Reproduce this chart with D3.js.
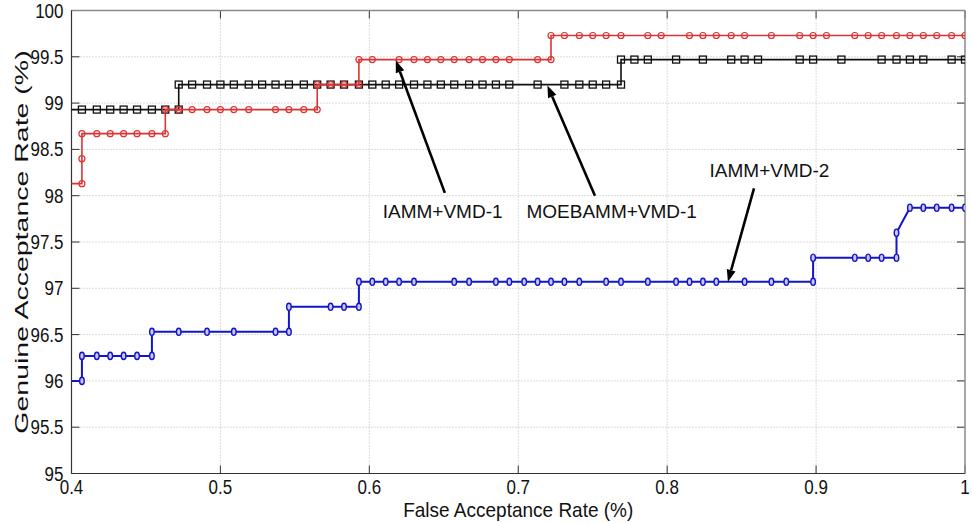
<!DOCTYPE html>
<html>
<head>
<meta charset="utf-8">
<script src="https://cdn.jsdelivr.net/npm/d3@7"></script>
<style>
  body { margin: 0; background: #fff; }
  svg { display: block; font-family: "Liberation Sans", Arial, sans-serif; }
  .grid line { stroke: #b8b8b8; stroke-width: 1; stroke-dasharray: 1,2; }
  .tick-mark { stroke: #333; stroke-width: 1; }
</style>
</head>
<body>
<div id="chart"></div>
<script>
'use strict';

// tick values and their labels
const xTicks = [0.4, 0.5, 0.6, 0.7, 0.8, 0.9, 1];
const xTickLabels = ['0.4', '0.5', '0.6', '0.7', '0.8', '0.9', '1'];
const yTicks = [95, 95.5, 96, 96.5, 97, 97.5, 98, 98.5, 99, 99.5, 100];
const yTickLabels = ['95', '95.5', '96', '96.5', '97', '97.5', '98', '98.5', '99', '99.5', '100'];

// [FAR, GAR]
const iammVmd1 = [
    [0.398, 98.13], [0.407, 98.13], [0.407, 98.40], [0.407, 98.67],
    [0.417, 98.67], [0.426, 98.67], [0.435, 98.67], [0.444, 98.67], [0.454, 98.67], [0.463, 98.67],
    [0.463, 98.93], [0.472, 98.93], [0.481, 98.93], [0.491, 98.93], [0.500, 98.93], [0.509, 98.93],
    [0.519, 98.93], [0.537, 98.93], [0.546, 98.93], [0.556, 98.93], [0.565, 98.93],
    [0.565, 99.20], [0.574, 99.20], [0.583, 99.20], [0.593, 99.20],
    [0.593, 99.47], [0.602, 99.47], [0.620, 99.47], [0.630, 99.47], [0.639, 99.47], [0.648, 99.47],
    [0.657, 99.47], [0.667, 99.47], [0.676, 99.47], [0.685, 99.47], [0.694, 99.47], [0.713, 99.47], [0.722, 99.47],
    [0.722, 99.73], [0.731, 99.73], [0.741, 99.73], [0.750, 99.73], [0.759, 99.73], [0.769, 99.73],
    [0.787, 99.73], [0.796, 99.73], [0.815, 99.73], [0.824, 99.73], [0.833, 99.73], [0.843, 99.73],
    [0.852, 99.73], [0.870, 99.73], [0.889, 99.73], [0.898, 99.73], [0.907, 99.73], [0.926, 99.73],
    [0.935, 99.73], [0.944, 99.73], [0.954, 99.73], [0.963, 99.73], [0.972, 99.73], [0.981, 99.73],
    [0.991, 99.73], [1.000, 99.73]
];

const moebammVmd1 = [
    [0.398, 98.93], [0.407, 98.93], [0.417, 98.93], [0.426, 98.93], [0.435, 98.93], [0.444, 98.93],
    [0.454, 98.93], [0.463, 98.93], [0.472, 98.93],
    [0.472, 99.20], [0.481, 99.20], [0.491, 99.20], [0.500, 99.20], [0.509, 99.20], [0.519, 99.20],
    [0.528, 99.20], [0.537, 99.20], [0.546, 99.20], [0.556, 99.20], [0.565, 99.20], [0.574, 99.20],
    [0.583, 99.20], [0.593, 99.20], [0.602, 99.20], [0.611, 99.20], [0.620, 99.20], [0.630, 99.20],
    [0.639, 99.20], [0.648, 99.20], [0.657, 99.20], [0.667, 99.20], [0.676, 99.20], [0.685, 99.20],
    [0.694, 99.20], [0.713, 99.20], [0.731, 99.20], [0.741, 99.20], [0.750, 99.20], [0.759, 99.20], [0.769, 99.20],
    [0.769, 99.47], [0.778, 99.47], [0.787, 99.47], [0.806, 99.47], [0.824, 99.47], [0.843, 99.47],
    [0.852, 99.47], [0.861, 99.47], [0.889, 99.47], [0.898, 99.47], [0.917, 99.47], [0.944, 99.47],
    [0.954, 99.47], [0.963, 99.47], [0.972, 99.47], [0.991, 99.47], [1.000, 99.47]
];

const iammVmd2 = [
    [0.398, 96.00], [0.407, 96.00], [0.407, 96.27],
    [0.417, 96.27], [0.426, 96.27], [0.435, 96.27], [0.444, 96.27], [0.454, 96.27],
    [0.454, 96.53], [0.472, 96.53], [0.491, 96.53], [0.509, 96.53], [0.537, 96.53], [0.546, 96.53],
    [0.546, 96.80], [0.574, 96.80], [0.583, 96.80], [0.593, 96.80],
    [0.593, 97.07], [0.602, 97.07], [0.611, 97.07], [0.620, 97.07], [0.630, 97.07], [0.657, 97.07],
    [0.667, 97.07], [0.685, 97.07], [0.694, 97.07], [0.704, 97.07], [0.713, 97.07], [0.722, 97.07],
    [0.731, 97.07], [0.741, 97.07], [0.759, 97.07], [0.769, 97.07], [0.787, 97.07], [0.806, 97.07],
    [0.815, 97.07], [0.824, 97.07], [0.833, 97.07], [0.852, 97.07], [0.870, 97.07], [0.880, 97.07], [0.898, 97.07],
    [0.898, 97.33], [0.926, 97.33], [0.935, 97.33], [0.944, 97.33], [0.954, 97.33],
    [0.954, 97.60],
    [0.963, 97.87], [0.972, 97.87], [0.981, 97.87], [0.991, 97.87], [1.000, 97.87]
];

// text callouts with arrows, in data units
const callouts = [
    { label: 'IAMM+VMD-1',    textAt: [0.609, 97.76], tail: [0.6507, 98.03], tip: [0.6178, 99.46] },
    { label: 'MOEBAMM+VMD-1', textAt: [0.7055, 97.76], tail: [0.7515, 98.00], tip: [0.7196, 99.19] },
    { label: 'IAMM+VMD-2',    textAt: [0.8285, 98.20], tail: [0.8583, 98.08], tip: [0.8408, 97.07] }
];


const width = 972;
const height = 523;
const margin = { top: 10.5, right: 7, bottom: 49.5, left: 71.5 };

const svg = d3.select('#chart').append('svg')
    .attr('width', width)
    .attr('height', height);

const x = d3.scaleLinear().domain([0.4, 1]).range([margin.left, width - margin.right]);
const y = d3.scaleLinear().domain([95, 100]).range([height - margin.bottom, margin.top]);

const x0 = x.range()[0], x1 = x.range()[1];
const y0 = y.range()[0], y1 = y.range()[1];

svg.append('defs').append('clipPath')
    .attr('id', 'plot-clip')
    .append('rect')
    .attr('x', x0).attr('y', y1)
    .attr('width', x1 - x0).attr('height', y0 - y1);

// grid
const grid = svg.append('g').attr('class', 'grid');
grid.selectAll('.vx')
    .data(xTicks.slice(1, -1))
    .enter().append('line')
    .attr('x1', d => x(d)).attr('x2', d => x(d))
    .attr('y1', y0).attr('y2', y1);
grid.selectAll('.hy')
    .data(yTicks.slice(1, -1))
    .enter().append('line')
    .attr('x1', x0).attr('x2', x1)
    .attr('y1', d => y(d)).attr('y2', d => y(d));

// ticks on all four sides, pointing inwards
const tickLen = 8;
const ticks = svg.append('g');
xTicks.forEach(function(d) {
    ticks.append('line').attr('class', 'tick-mark')
        .attr('x1', x(d)).attr('x2', x(d)).attr('y1', y0).attr('y2', y0 - tickLen);
    ticks.append('line').attr('class', 'tick-mark')
        .attr('x1', x(d)).attr('x2', x(d)).attr('y1', y1).attr('y2', y1 + tickLen);
});
yTicks.forEach(function(d) {
    ticks.append('line').attr('class', 'tick-mark')
        .attr('x1', x0).attr('x2', x0 + tickLen).attr('y1', y(d)).attr('y2', y(d));
    ticks.append('line').attr('class', 'tick-mark')
        .attr('x1', x1).attr('x2', x1 - tickLen).attr('y1', y(d)).attr('y2', y(d));
});

// frame
svg.append('line').attr('x1', x0).attr('x2', x1).attr('y1', y1).attr('y2', y1)
    .attr('stroke', '#8a8a8a').attr('stroke-width', 1.5);
svg.append('line').attr('x1', x1).attr('x2', x1).attr('y1', y1).attr('y2', y0)
    .attr('stroke', '#8a8a8a').attr('stroke-width', 1.5);
svg.append('line').attr('x1', x0).attr('x2', x1).attr('y1', y0).attr('y2', y0)
    .attr('stroke', '#333').attr('stroke-width', 1.2);
svg.append('line').attr('x1', x0).attr('x2', x0).attr('y1', y1).attr('y2', y0)
    .attr('stroke', '#333').attr('stroke-width', 1.2);

// tick labels (the picture is slightly stretched vertically)
const stretch = 1.15;
svg.append('g').selectAll('text')
    .data(xTicks)
    .enter().append('text')
    .attr('transform', d => 'translate(' + x(d) + ',' + (y0 + 20.5) + ') scale(1,' + stretch + ')')
    .attr('text-anchor', 'middle')
    .attr('font-size', 17)
    .attr('fill', '#111')
    .text((d, i) => xTickLabels[i]);

svg.append('g').selectAll('text')
    .data(yTicks)
    .enter().append('text')
    .attr('transform', d => 'translate(' + (x0 - 8) + ',' + (y(d) + 7) + ') scale(1,' + stretch + ')')
    .attr('text-anchor', 'end')
    .attr('font-size', 17)
    .attr('fill', '#111')
    .text((d, i) => yTickLabels[i]);

// axis titles
svg.append('text')
    .attr('transform', 'translate(' + ((x0 + x1) / 2) + ',' + (height - 6) + ') scale(1,1.1)')
    .attr('text-anchor', 'middle')
    .attr('font-size', 19)
    .attr('fill', '#111')
    .text('False Acceptance Rate (%)');

svg.append('text')
    .attr('transform', 'translate(28,' + ((y0 + y1) / 2) + ') rotate(-90) scale(1.5,1)')
    .attr('text-anchor', 'middle')
    .attr('font-size', 19)
    .attr('fill', '#111')
    .text('Genuine Acceptance Rate (%)');

// series
const line = d3.line().x(d => x(d[0])).y(d => y(d[1]));
const inDomain = d => d[0] >= 0.4 && d[0] <= 1;
const plot = svg.append('g').attr('clip-path', 'url(#plot-clip)');

function drawSeries(data, color, lineWidth, marker) {
    plot.append('path')
        .datum(data)
        .attr('d', line)
        .attr('fill', 'none')
        .attr('stroke', color)
        .attr('stroke-width', lineWidth);

    const marks = plot.append('g').selectAll('.m').data(data.filter(inDomain)).enter();
    if (marker === 'circle') {
        marks.append('circle')
            .attr('cx', d => x(d[0])).attr('cy', d => y(d[1])).attr('r', 3)
            .attr('fill', 'none').attr('stroke', color).attr('stroke-width', 1.2);
    } else if (marker === 'square') {
        marks.append('rect')
            .attr('x', d => x(d[0]) - 3.5).attr('y', d => y(d[1]) - 3.5)
            .attr('width', 7).attr('height', 7)
            .attr('fill', 'none').attr('stroke', color).attr('stroke-width', 1.3);
    } else {
        marks.append('ellipse')
            .attr('cx', d => x(d[0])).attr('cy', d => y(d[1])).attr('rx', 2.3).attr('ry', 3.6)
            .attr('fill', '#c8c8f0').attr('stroke', color).attr('stroke-width', 1.4);
    }
}

drawSeries(iammVmd2, '#1414c8', 2, 'diamond');
drawSeries(moebammVmd1, '#111', 1.6, 'square');
drawSeries(iammVmd1, '#dd3333', 1.6, 'circle');

// callouts
const notes = svg.append('g');
callouts.forEach(function(c) {
    const tx = x(c.tail[0]), ty = y(c.tail[1]);
    const hx = x(c.tip[0]), hy = y(c.tip[1]);
    const ang = Math.atan2(hy - ty, hx - tx);
    const headLen = 12, headHalf = 4.5;
    const bx = hx - headLen * Math.cos(ang), by = hy - headLen * Math.sin(ang);

    notes.append('line')
        .attr('x1', tx).attr('y1', ty).attr('x2', bx).attr('y2', by)
        .attr('stroke', '#000').attr('stroke-width', 2.6);
    notes.append('path')
        .attr('d', d3.line()([
            [hx, hy],
            [bx + headHalf * Math.sin(ang), by - headHalf * Math.cos(ang)],
            [bx - headHalf * Math.sin(ang), by + headHalf * Math.cos(ang)]
        ]) + 'Z')
        .attr('fill', '#000');

    notes.append('text')
        .attr('x', x(c.textAt[0])).attr('y', y(c.textAt[1]))
        .attr('font-size', 19)
        .attr('fill', '#111')
        .text(c.label);
});
</script>
</body>
</html>
